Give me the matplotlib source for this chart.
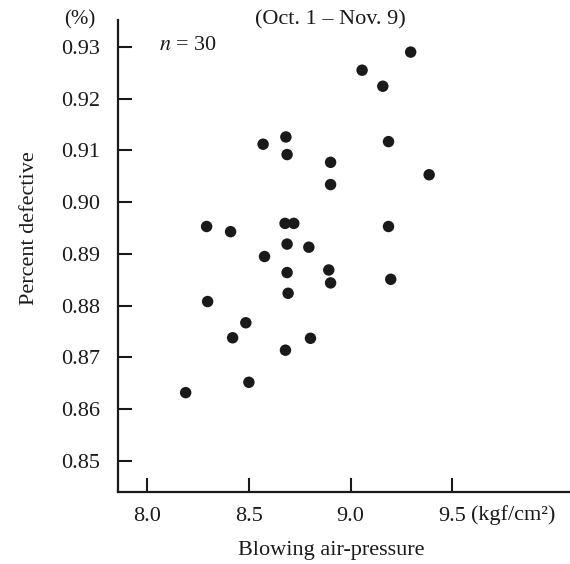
import numpy as np
import matplotlib.pyplot as plt
from matplotlib.transforms import blended_transform_factory

# ---- data -------------------------------------------------------------------
pressure = [9.296, 9.057, 9.159, 8.682, 8.570, 9.187, 8.688, 8.902, 9.387, 8.902,
            8.292, 8.410, 8.678, 8.721, 9.187, 8.688, 8.795, 8.577, 8.688, 8.893,
            8.902, 9.198, 8.693, 8.297, 8.485, 8.420, 8.803, 8.680, 8.500, 8.189]
defective = [0.9290, 0.9255, 0.9224, 0.9126, 0.9112, 0.9117, 0.9092, 0.9077, 0.9053, 0.9034,
             0.8953, 0.8943, 0.8959, 0.8959, 0.8953, 0.8919, 0.8913, 0.8895, 0.8864, 0.8869,
             0.8844, 0.8851, 0.8824, 0.8808, 0.8767, 0.8738, 0.8737, 0.8714, 0.8652, 0.8632]
xticks = [8.0, 8.5, 9.0, 9.5]
yticks = [0.85, 0.86, 0.87, 0.88, 0.89, 0.90, 0.91, 0.92, 0.93]

plt.rcParams['font.family'] = ['Liberation Serif', 'DejaVu Serif']
plt.rcParams['mathtext.fontset'] = 'stix'

ink = '#1a1a1a'
fig = plt.figure(figsize=(5.7, 5.64), dpi=100)
W, H = 570, 564
ax = fig.add_axes([118 / W, 1 - 492 / H, 1 - 118 / W, (492 - 20) / H])

ax.scatter(pressure, defective, s=68, color=ink, edgecolors='none', zorder=3)

ax.set_xlim(7.856, 10.08)
ax.set_ylim(0.844, 0.9352)

ax.set_xticks(xticks)
ax.set_xticklabels([f'{v:.1f}' for v in xticks])
ax.set_yticks(yticks)
ax.set_yticklabels([f'{v:.2f}' for v in yticks])

ax.tick_params(axis='both', direction='in', length=10, width=1.5, colors=ink,
               labelsize=16)
ax.tick_params(axis='y', pad=13)
ax.tick_params(axis='x', pad=11)

for side in ['top', 'right']:
    ax.spines[side].set_visible(False)
for side in ['left', 'bottom']:
    ax.spines[side].set_linewidth(1.6)
    ax.spines[side].set_color(ink)

# unit next to the 9.5 label
trans = blended_transform_factory(ax.transData, fig.transFigure)
ax.text(9.5 + 0.095, 1 - 515 / H, '(kgf/cm²)', transform=trans, fontsize=16,
        ha='left', va='center', color=ink)

fig.text(80 / W, 1 - 20 / H, '(%)', fontsize=15, ha='center', va='center', color=ink)
fig.text(330 / W, 1 - 20 / H, '(Oct. 1 – Nov. 9)', fontsize=16, ha='center', va='center',
         color=ink)
fig.text(188 / W, 1 - 45 / H, r'$n$ = 30', fontsize=16, ha='center', va='center',
         color=ink)
fig.text(30 / W, 1 - 228 / H, 'Percent defective', fontsize=16, rotation=90,
         ha='center', va='center', color=ink)
fig.text(331 / W, 1 - 551 / H, 'Blowing air-pressure', fontsize=16, ha='center',
         va='center', color=ink)

fig.savefig('out.png', dpi=100, facecolor='white')
